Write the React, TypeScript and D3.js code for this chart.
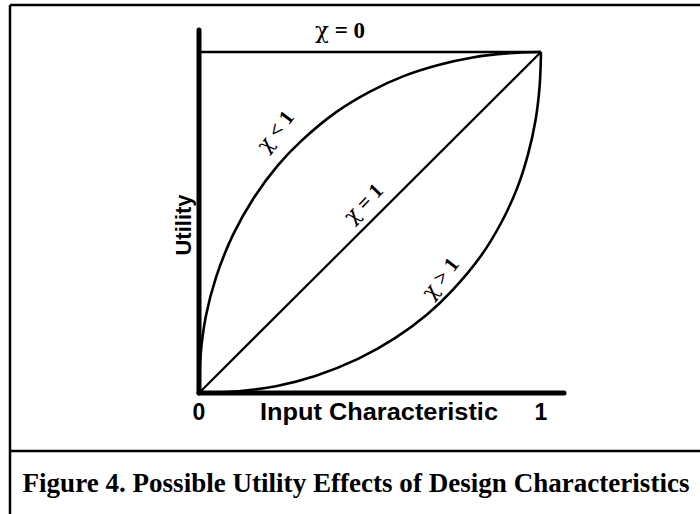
import * as d3 from "d3";

const W = 700;
const H = 514;

// curves, in data units (0..1 on both axes)
const lowChiX = [0, 0.005, 0.02, 0.05, 0.1, 0.16, 0.23, 0.3, 0.4, 0.5, 0.6, 0.7, 0.8, 0.9, 1];
const lowChiY = [0, 0.115, 0.225, 0.34, 0.465, 0.572, 0.667, 0.74, 0.823, 0.884, 0.93, 0.962, 0.984, 0.996, 1];

const highChiX = [0, 0.115, 0.225, 0.34, 0.465, 0.572, 0.667, 0.74, 0.823, 0.884, 0.93, 0.962, 0.984, 0.996, 1];
const highChiY = [0, 0.005, 0.02, 0.05, 0.1, 0.16, 0.23, 0.3, 0.4, 0.5, 0.6, 0.7, 0.8, 0.9, 1];

const unitX = [0, 1];
const unitY = [0, 1];
const flatY = [1, 1];

const xTickLabels = ["0", "1"];

const SERIF = "'Liberation Serif', 'Times New Roman', serif";
const GREEK = "'DejaVu Serif', serif";
const SANS = "'Liberation Sans', Arial, sans-serif";

export default function App() {
  const x = d3.scaleLinear().domain([0, 1]).range([199, 541]);
  const y = d3.scaleLinear().domain([0, 1]).range([393, 52]);

  const smooth = d3
    .line<[number, number]>()
    .x((d) => x(d[0]))
    .y((d) => y(d[1]))
    .curve(d3.curveCatmullRom.alpha(0.5));

  const straight = d3
    .line<[number, number]>()
    .x((d) => x(d[0]))
    .y((d) => y(d[1]));

  const zip = (xs: number[], ys: number[]) =>
    xs.map((v, i) => [v, ys[i]] as [number, number]);

  // chi labels: greek letter from a font that has it, rest in Times-like bold
  const chiLabel = (px: number, py: number, angle: number, rest: string, size = 21) => (
    <text
      transform={`translate(${px},${py}) rotate(${angle})`}
      textAnchor="middle"
      dy="0.35em"
      fontFamily={SERIF}
      fontWeight="bold"
      fontSize={size}
    >
      <tspan fontFamily={GREEK} fontWeight="normal">χ</tspan>
      {rest}
    </text>
  );

  return (
    <svg
      width={W}
      height={H}
      style={{ position: "absolute", left: 0, top: 0, background: "#fff" }}
    >
      {/* frame */}
      <line x1={10} y1={5} x2={W} y2={5} stroke="#000" strokeWidth={2.5} />
      <line x1={10} y1={5} x2={10} y2={H} stroke="#000" strokeWidth={2.5} />
      <line x1={10} y1={451} x2={W} y2={451} stroke="#000" strokeWidth={2.5} />

      {/* chi = 0 line */}
      <path d={straight(zip(unitX, flatY)) || ""} fill="none" stroke="#000" strokeWidth={2.5} />
      {/* chi = 1 diagonal */}
      <path d={straight(zip(unitX, unitY)) || ""} fill="none" stroke="#000" strokeWidth={2.2} />
      {/* chi < 1 */}
      <path d={smooth(zip(lowChiX, lowChiY)) || ""} fill="none" stroke="#000" strokeWidth={2.6} />
      {/* chi > 1 */}
      <path d={smooth(zip(highChiX, highChiY)) || ""} fill="none" stroke="#000" strokeWidth={2.6} />

      {/* axes */}
      <line x1={x(0)} y1={y(0)} x2={x(0)} y2={30} stroke="#000" strokeWidth={5} strokeLinecap="round" />
      <line x1={x(0)} y1={y(0)} x2={564} y2={y(0)} stroke="#000" strokeWidth={5} strokeLinecap="round" />

      {xTickLabels.map((t, i) => (
        <text
          key={t}
          x={x(i)}
          y={420}
          textAnchor="middle"
          fontFamily={SANS}
          fontWeight="bold"
          fontSize={23}
        >
          {t}
        </text>
      ))}
      <text
        x={379}
        y={420}
        textAnchor="middle"
        fontFamily={SANS}
        fontWeight="bold"
        fontSize={23}
        textLength={238}
        lengthAdjust="spacingAndGlyphs"
      >
        Input Characteristic
      </text>
      <text
        transform={`translate(${191},${225}) rotate(-90)`}
        textAnchor="middle"
        fontFamily={SANS}
        fontWeight="bold"
        fontSize={22}
      >
        Utility
      </text>

      {/* curve labels */}
      <text x={340} y={38} textAnchor="middle" fontFamily={SERIF} fontWeight="bold" fontSize={23}>
        <tspan fontFamily={GREEK} fontWeight="normal">χ</tspan> = 0
      </text>
      {chiLabel(275, 131, -52, " < 1")}
      {chiLabel(363, 203, -46, " = 1")}
      {chiLabel(440, 278, -52, " > 1")}

      {/* caption */}
      <text
        x={356}
        y={492}
        textAnchor="middle"
        fontFamily={SERIF}
        fontWeight="bold"
        fontSize={27}
        textLength={667}
        lengthAdjust="spacingAndGlyphs"
      >
        Figure 4. Possible Utility Effects of Design Characteristics
      </text>
    </svg>
  );
}
